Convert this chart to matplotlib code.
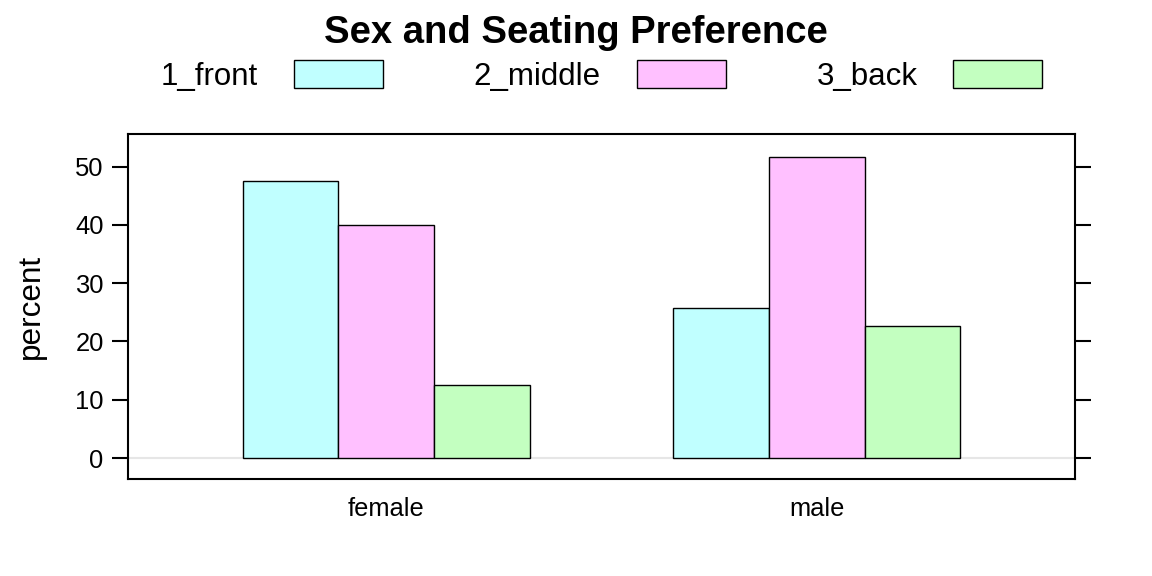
import numpy as np
import matplotlib.pyplot as plt
from matplotlib.patches import Patch

plt.rcParams['font.family'] = ['Liberation Sans', 'DejaVu Sans']

sexes = ["female", "male"]
seats = ["1_front", "2_middle", "3_back"]
percent_front = [47.5, 25.8]
percent_middle = [40.0, 51.6]
percent_back = [12.5, 22.6]
colors = ["#C0FFFF", "#FFC0FF", "#C3FFC0"]

fig = plt.figure(figsize=(11.52, 5.76), dpi=100)
ax = fig.add_axes([0.1111, 0.1684, 0.8221, 0.5990])

x = np.arange(1, len(sexes) + 1)
width = 2 / 9
series = [percent_front, percent_middle, percent_back]
for i, (vals, col) in enumerate(zip(series, colors)):
    ax.bar(x + (i - 1) * width, vals, width=width, color=col,
           edgecolor="black", linewidth=1.0, zorder=2)

ax.axhline(0, color="#E6E6E6", linewidth=1.5, zorder=1)

ax.set_xlim(0.4, 2.6)
ax.set_ylim(-3.6, 55.6)
ax.set_xticks(x)
ax.set_xticklabels(sexes, fontsize=18.4)
ax.set_yticks([0, 10, 20, 30, 40, 50])
ax.tick_params(axis="x", length=0, pad=13)
ax.tick_params(axis="y", direction="out", length=11.5, width=1.5,
               labelsize=18.4, right=True, pad=6)
for s in ax.spines.values():
    s.set_linewidth(1.5)
ax.set_ylabel("percent", fontsize=22.7, labelpad=21)

handles = [Patch(facecolor=c, edgecolor="black", linewidth=1.0) for c in colors]
ax.legend(handles, seats, loc="center", bbox_to_anchor=(0.5, 1.168),
          ncol=3, frameon=False, markerfirst=False, fontsize=22.5,
          handlelength=2.85, handleheight=1.0, handletextpad=1.15,
          columnspacing=2.9, borderaxespad=0)

fig.text(0.5, 1 - 33 / 576, "Sex and Seating Preference", ha="center",
         va="center", fontsize=27.5, fontweight="bold")

fig.savefig("out.png", dpi=100)
